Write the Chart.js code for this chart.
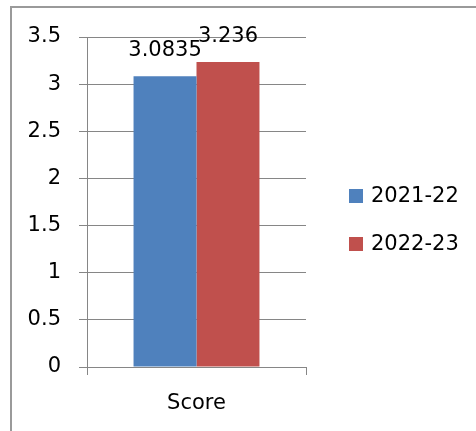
<!DOCTYPE html>
<html>
<head>
<meta charset="utf-8">
<script src="https://cdn.jsdelivr.net/npm/chart.js@4"></script>
<style>
html,body{margin:0;padding:0;background:#fff;overflow:hidden;}
#wrap{position:relative;width:476px;height:431px;overflow:hidden;}
#frame{position:absolute;left:10px;top:6px;width:600px;height:600px;border-left:2px solid #9a9a9a;border-top:2px solid #9a9a9a;box-sizing:border-box;}
canvas{position:absolute;left:0;top:0;}
</style>
</head>
<body>
<div id="wrap">
<div id="frame"></div>
<canvas id="c" width="476" height="431"></canvas>
</div>
<script>
const categories = ["Score"];
const series2021 = [3.0835];
const series2022 = [3.236];
const seriesNames = ["2021-22", "2022-23"];
const seriesColors = ["#4F81BD", "#C0504D"];
const yTicks = [0, 0.5, 1, 1.5, 2, 2.5, 3, 3.5];

const FONT = "'DejaVu Sans'";
const FSIZE = 21;
const gridColor = "#868686";

const valueLabels = {
  id: "valueLabels",
  afterDatasetsDraw(chart) {
    const ctx = chart.ctx;
    ctx.save();
    ctx.font = FSIZE + "px " + FONT;
    ctx.fillStyle = "#000";
    ctx.textAlign = "center";
    ctx.textBaseline = "alphabetic";
    chart.data.datasets.forEach((ds, i) => {
      const meta = chart.getDatasetMeta(i);
      meta.data.forEach((el, j) => {
        ctx.fillText(String(ds.data[j]), el.x, el.y - 20);
      });
    });
    ctx.restore();
  }
};

const sideLegend = {
  id: "sideLegend",
  afterDraw(chart) {
    const ctx = chart.ctx;
    ctx.save();
    ctx.font = FSIZE + "px " + FONT;
    ctx.textAlign = "left";
    ctx.textBaseline = "middle";
    const x0 = 349, yc0 = 196, step = 48;
    chart.data.datasets.forEach((ds, i) => {
      const yc = yc0 + i * step;
      ctx.fillStyle = ds.backgroundColor;
      ctx.fillRect(x0, yc - 7, 14, 14);
      ctx.fillStyle = "#000";
      ctx.fillText(ds.label, x0 + 22, yc + 1);
    });
    ctx.restore();
  }
};

new Chart(document.getElementById("c"), {
  type: "bar",
  data: {
    labels: categories,
    datasets: [
      { label: seriesNames[0], data: series2021, backgroundColor: seriesColors[0] },
      { label: seriesNames[1], data: series2022, backgroundColor: seriesColors[1] }
    ]
  },
  options: {
    responsive: false,
    animation: false,
    devicePixelRatio: 1,
    layout: { padding: { top: 37, right: 170, bottom: 0, left: 0 } },
    datasets: { bar: { categoryPercentage: 0.575, barPercentage: 1.0 } },
    plugins: { legend: { display: false }, tooltip: { enabled: false } },
    scales: {
      x: {
        offset: true,
        grid: { offset: true, drawOnChartArea: false, drawTicks: true, tickLength: 8, color: gridColor, lineWidth: 1 },
        border: { color: gridColor, width: 1 },
        ticks: { color: "#000", font: { family: FONT, size: FSIZE }, padding: 16 },
        afterFit(scale) { scale.height = 64; }
      },
      y: {
        min: 0, max: 3.5,
        afterBuildTicks(scale) { scale.ticks = yTicks.map(v => ({ value: v })); },
        grid: { color: gridColor, lineWidth: 1, drawTicks: true, tickLength: 8 },
        border: { color: gridColor, width: 1 },
        ticks: { color: "#000", font: { family: FONT, size: FSIZE }, padding: 18,
                 callback: v => String(v) },
        afterFit(scale) { scale.width = 87; }
      }
    }
  },
  plugins: [valueLabels, sideLegend]
});
</script>
</body>
</html>
